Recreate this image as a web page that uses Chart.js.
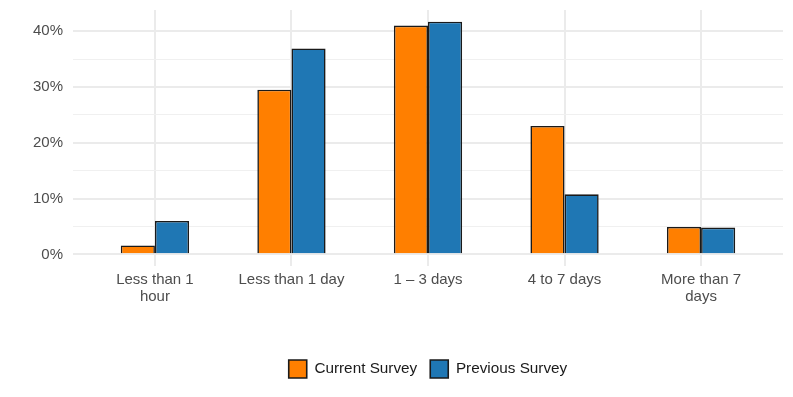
<!DOCTYPE html>
<html>
<head>
<meta charset="utf-8">
<script src="https://cdn.jsdelivr.net/npm/chart.js@4/dist/chart.umd.min.js"></script>
<style>
html,body{margin:0;padding:0;background:#fff;}
#wrap{width:793px;height:397px;}
</style>
</head>
<body>
<div id="wrap"><canvas id="c" width="793" height="397"></canvas></div>
<script>
const categories = ["Less than 1 hour","Less than 1 day","1 – 3 days","4 to 7 days","More than 7 days"];
const xTickLabels = [["Less than 1","hour"],["Less than 1 day"],["1 – 3 days"],["4 to 7 days"],["More than 7","days"]];
const currentSurvey = [1.6, 29.5, 41.0, 23.0, 4.9];
const previousSurvey = [6.0, 36.9, 41.7, 10.75, 4.8];
const yTickValues = [0,5,10,15,20,25,30,35,40];
const seriesNames = ["Current Survey","Previous Survey"];

const toPoints = arr => arr.map((v,i)=>({x:i,y:v}));
const FONT = "'Liberation Sans', Arial, sans-serif";

const legendShift = {
  id:'legendShift',
  afterLayout(chart){
    const lg = chart.legend;
    if (lg) { lg.left += chart.chartArea.left; }
  }
};

new Chart(document.getElementById('c'), {
  type: 'bar',
  data: {
    datasets: [
      {label: seriesNames[0], data: toPoints(currentSurvey), backgroundColor:'#FF7F00', borderColor:'#1a1a1a', borderWidth:1.6, categoryPercentage:0.5, barPercentage:1.0},
      {label: seriesNames[1], data: toPoints(previousSurvey), backgroundColor:'#1F77B4', borderColor:'#1a1a1a', borderWidth:1.6, categoryPercentage:0.5, barPercentage:1.0}
    ]
  },
  plugins:[legendShift],
  options: {
    responsive:false,
    devicePixelRatio:1,
    animation:false,
    layout:{padding:{top:10,right:10,bottom:9,left:0}},
    plugins:{
      tooltip:{enabled:false},
      legend:{
        position:'bottom',
        labels:{boxWidth:18, boxHeight:18, padding:13, color:'#1a1a1a', font:{family:FONT, size:15.3}}
      }
    },
    scales:{
      x:{
        type:'linear', offset:false, min:-0.6, max:4.6,
        afterBuildTicks: s => { s.ticks = categories.map((c,i)=>({value:i})); },
        afterFit: s => { s.height = 81; s.paddingLeft = 0; s.paddingRight = 0; },
        grid:{offset:false, color:'#EBEBEB', lineWidth:2, drawTicks:false},
        border:{display:false},
        ticks:{padding:5, color:'#4D4D4D', font:{family:FONT, size:15, lineHeight:1.13}, maxRotation:0, autoSkip:false,
          callback: v => xTickLabels[v]}
      },
      y:{
        type:'linear', min:-2.085, max:43.785,
        afterBuildTicks: s => { s.ticks = yTickValues.map(v=>({value:v})); },
        afterFit: s => { s.width = 73; s.paddingTop = 0; s.paddingBottom = 0; },
        grid:{drawTicks:false, color: c => (c.tick && c.tick.value % 10 === 0) ? '#EBEBEB' : '#F0F0F0', lineWidth: c => (c.tick && c.tick.value % 10 === 0) ? 2 : 1},
        border:{display:false},
        ticks:{padding:10, color:'#4D4D4D', font:{family:FONT, size:15}, autoSkip:false,
          callback: v => (v % 10 === 0) ? v + '%' : ''}
      }
    }
  }
});
</script>
</body>
</html>
